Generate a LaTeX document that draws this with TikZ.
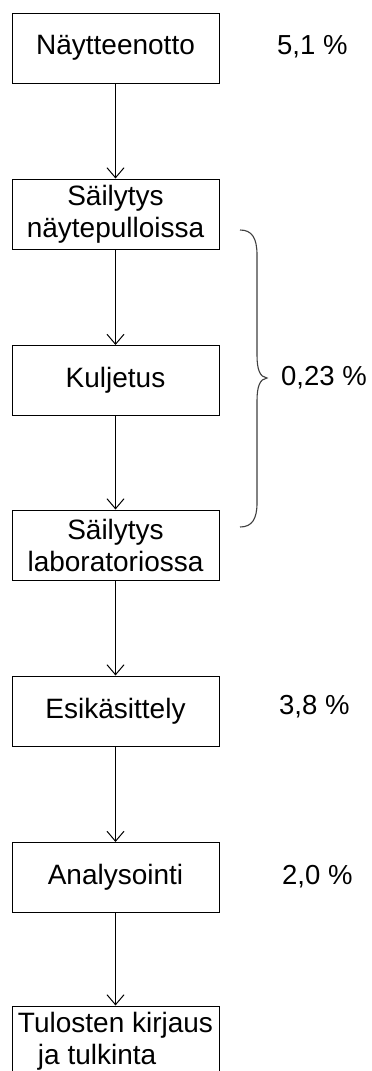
\documentclass[tikz,border=0pt]{standalone}
\usepackage{fontspec}
\setmainfont{Liberation Sans}
\usetikzlibrary{arrows.meta}
\begin{document}
\begin{tikzpicture}[x=1pt,y=-1pt,
  stepbox/.style={draw=black, line width=1pt, minimum width=207pt, minimum height=70pt,
    inner sep=0pt, align=center, font=\fontsize{28}{32}\selectfont},
  pct/.style={anchor=west, inner sep=0pt, font=\fontsize{27.5}{32}\selectfont},
  flow/.style={draw=black, line width=1pt, -{Straight Barb[length=10pt,width=17pt,line width=1pt]}},
  bracestyle/.style={draw=black!75, line width=1.1pt}]
\clip (0,0) rectangle (372,1071);
\fill[white] (0,0) rectangle (372,1071);
\node[stepbox] (b1) at (115.5,48) {Näytteenotto};
\node[stepbox] (b2) at (115.5,214) {Säilytys\\näytepulloissa};
\node[stepbox] (b3) at (115.5,380.5) {Kuljetus};
\node[stepbox] (b4) at (115.5,545) {Säilytys\\laboratoriossa};
\node[stepbox] (b5) at (115.5,711) {Esikäsittely};
\node[stepbox] (b6) at (115.5,877.5) {Analysointi};
\node[stepbox, align=left] (b7) at (115.5,1041) {Tulosten kirjaus\\\hspace*{20pt}ja tulkinta};
\draw[flow] (b1) -- (b2);
\draw[flow] (b2) -- (b3);
\draw[flow] (b3) -- (b4);
\draw[flow] (b4) -- (b5);
\draw[flow] (b5) -- (b6);
\draw[flow] (b6) -- (b7);
\node[pct] (p1) at (277,47) {5,1 \%};
\node[pct] (p2) at (281,378) {0,23 \%};
\node[pct] (p3) at (279,707) {3,8 \%};
\node[pct] (p4) at (282,877) {2,0 \%};
\draw[bracestyle] (240,230) .. controls (252,230) and (257,238) .. (257,255) -- (257,355)
  .. controls (257,370) and (260,377) .. (267,378)
  .. controls (260,379) and (257,386) .. (257,401) -- (257,503)
  .. controls (257,519) and (252,527) .. (240,527);
\end{tikzpicture}
\end{document}
